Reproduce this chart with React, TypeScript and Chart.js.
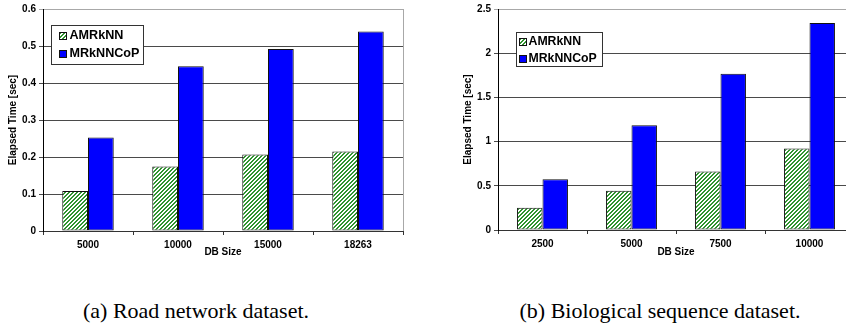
import React, { useEffect, useRef } from 'react';
import { Chart, registerables } from 'chart.js';

Chart.register(...registerables);

// Road network panel
const roadSizes = ['5000', '10000', '15000', '18263'];
const roadAmrknn = [0.108, 0.174, 0.207, 0.215];
const roadMrknncop = [0.253, 0.445, 0.492, 0.539];
const roadTicks = ['0', '0.1', '0.2', '0.3', '0.4', '0.5', '0.6'];

// Biological sequence panel
const bioSizes = ['2500', '5000', '7500', '10000'];
const bioAmrknn = [0.252, 0.444, 0.663, 0.921];
const bioMrknncop = [0.574, 1.184, 1.768, 2.342];
const bioTicks = ['0', '0.5', '1', '1.5', '2', '2.5'];

const seriesNames = ['AMRkNN', 'MRkNNCoP'];
const axisTitles = ['Elapsed Time [sec]', 'DB Size'];
const captions = ['(a) Road network dataset.', '(b) Biological sequence dataset.'];

const SANS = '"Liberation Sans", Arial, Helvetica, sans-serif';
const SERIF = '"Liberation Serif", "Times New Roman", Times, serif';

// Diagonal green hatch used for the AMRkNN bars
function makeHatch(ctx: CanvasRenderingContext2D): CanvasPattern | string {
  const tile = document.createElement('canvas');
  tile.width = 4;
  tile.height = 4;
  const tctx = tile.getContext('2d');
  if (!tctx) return '#3a9a3a';
  const img = tctx.createImageData(4, 4);
  for (let y = 0; y < 4; y++) {
    for (let x = 0; x < 4; x++) {
      const i = (y * 4 + x) * 4;
      const on = (x + y) % 4 < 2;
      img.data[i] = on ? 0x2f : 0xff;
      img.data[i + 1] = on ? 0x94 : 0xff;
      img.data[i + 2] = on ? 0x2f : 0xff;
      img.data[i + 3] = 255;
    }
  }
  tctx.putImageData(img, 0, 0);
  return ctx.createPattern(tile, 'repeat') || '#3a9a3a';
}

// Boxed legend inside the plot area plus the light plot-area border on the right
const boxLegend = {
  id: 'boxLegend',
  afterDraw(chart: any, _args: any, opts: any) {
    const { ctx, chartArea } = chart;
    ctx.save();
    ctx.strokeStyle = '#a8a8a8';
    ctx.lineWidth = 1;
    ctx.beginPath();
    const rx = Math.round(chartArea.right) + 0.5;
    ctx.moveTo(rx, chartArea.top);
    ctx.lineTo(rx, chartArea.bottom);
    ctx.stroke();

    const { x, y, w, h, rows, swatchX, textX, size, fontSize } = opts;
    ctx.fillStyle = '#ffffff';
    ctx.fillRect(x, y, w, h);
    ctx.strokeStyle = '#333333';
    ctx.strokeRect(x + 0.5, y + 0.5, w, h);
    chart.data.datasets.forEach((ds: any, i: number) => {
      const cy = y + rows[i];
      const sy = Math.round(cy - size / 2);
      ctx.fillStyle = ds.backgroundColor;
      ctx.fillRect(x + swatchX, sy, size, size);
      ctx.strokeStyle = '#111111';
      ctx.strokeRect(x + swatchX + 0.5, sy + 0.5, size - 1, size - 1);
      ctx.fillStyle = '#000000';
      ctx.font = `bold ${fontSize}px ${SANS}`;
      ctx.textBaseline = 'middle';
      ctx.textAlign = 'left';
      ctx.fillText(ds.label, x + textX, cy);
    });
    ctx.restore();
  },
};

type PanelProps = {
  sizes: string[];
  a: number[];
  b: number[];
  ticks: string[];
  max: number;
  step: number;
  canvasWidth: number;
  yWidth: number;
  padTop: number;
  padRight: number;
  xHeight: number;
  yTitlePad: number;
  legend: any;
};

function BarPanel(p: PanelProps) {
  const ref = useRef<HTMLCanvasElement | null>(null);

  useEffect(() => {
    const canvas = ref.current;
    if (!canvas) return;
    const ctx = canvas.getContext('2d');
    if (!ctx) return;
    const hatch = makeHatch(ctx);
    const tickFont = { family: SANS, size: 10, weight: 'bold' as const };

    const chart = new Chart(canvas, {
      type: 'bar',
      data: {
        labels: p.sizes,
        datasets: [
          {
            label: seriesNames[0],
            data: p.a,
            backgroundColor: hatch as any,
            borderColor: '#111111',
            borderWidth: 1,
            borderSkipped: false,
          },
          {
            label: seriesNames[1],
            data: p.b,
            backgroundColor: '#0000ff',
            borderColor: '#111111',
            borderWidth: 1,
            borderSkipped: false,
          },
        ],
      },
      options: {
        responsive: false,
        animation: false,
        devicePixelRatio: 1,
        layout: { padding: { left: 0, top: p.padTop, right: p.padRight, bottom: 0 } },
        datasets: { bar: { categoryPercentage: 0.572, barPercentage: 1 } },
        plugins: {
          legend: { display: false },
          tooltip: { enabled: false },
          boxLegend: p.legend,
        } as any,
        scales: {
          x: {
            offset: true,
            grid: { drawOnChartArea: false, tickLength: 4, color: '#333333' },
            border: { display: true, color: '#333333', width: 1 },
            ticks: { font: tickFont, color: '#000000', padding: 4, maxRotation: 0, autoSkip: false },
            title: {
              display: true,
              text: axisTitles[1],
              font: tickFont,
              color: '#000000',
              padding: { top: 0, bottom: 1.5 },
            },
            afterFit: (s: any) => {
              s.height = p.xHeight;
            },
          },
          y: {
            min: 0,
            max: p.max,
            ticks: {
              stepSize: p.step,
              font: tickFont,
              color: '#000000',
              padding: 3,
              callback: (_v: any, i: number) => p.ticks[i],
            },
            grid: {
              tickLength: 4,
              color: (c: any) =>
                c.tick && Math.abs(c.tick.value - p.max) < 1e-9 ? '#a8a8a8' : '#4a4a4a',
            },
            border: { display: true, color: '#000000', width: 1 },
            title: {
              display: true,
              text: axisTitles[0],
              font: tickFont,
              color: '#000000',
              padding: { top: p.yTitlePad, bottom: 0 },
            },
            afterFit: (s: any) => {
              s.width = p.yWidth;
            },
          },
        },
      },
      plugins: [boxLegend as any],
    });
    return () => chart.destroy();
  }, []);

  return (
    <canvas
      ref={ref}
      width={p.canvasWidth}
      height={260}
      style={{ display: 'block', width: p.canvasWidth, height: 260 }}
    />
  );
}

export default function App() {
  const captionStyle = (center: number): React.CSSProperties => ({
    position: 'absolute',
    left: center - 200,
    width: 400,
    top: 300,
    height: 22,
    lineHeight: '22px',
    fontFamily: SERIF,
    fontSize: 22,
    textAlign: 'center',
    color: '#000',
    whiteSpace: 'nowrap',
  });

  return (
    <div
      style={{
        position: 'absolute',
        left: 0,
        top: 0,
        width: 846,
        height: 329,
        background: '#ffffff',
        overflow: 'hidden',
      }}
    >
      <div style={{ position: 'absolute', left: 0, top: 0, width: 420, height: 260 }}>
        <BarPanel
          sizes={roadSizes}
          a={roadAmrknn}
          b={roadMrknncop}
          ticks={roadTicks}
          max={0.6}
          step={0.1}
          canvasWidth={420}
          yWidth={43}
          padTop={7}
          padRight={17}
          xHeight={29}
          yTitlePad={7}
          legend={{ x: 51, y: 25, w: 92, h: 39, rows: [10.7, 29], swatchX: 8, textX: 18.5, size: 8, fontSize: 12.6 }}
        />
      </div>
      <div style={{ position: 'absolute', left: 430, top: 0, width: 416, height: 260, overflow: 'hidden' }}>
        <BarPanel
          sizes={bioSizes}
          a={bioAmrknn}
          b={bioMrknncop}
          ticks={bioTicks}
          max={2.5}
          step={0.5}
          canvasWidth={440}
          yWidth={68}
          padTop={5}
          padRight={16}
          xHeight={30}
          yTitlePad={32}
          legend={{ x: 86, y: 32, w: 86, h: 34, rows: [9.5, 26.5], swatchX: 3, textX: 12.5, size: 8, fontSize: 12.3 }}
        />
      </div>
      <div style={captionStyle(196)}>{captions[0]}</div>
      <div style={captionStyle(660)}>{captions[1]}</div>
    </div>
  );
}
